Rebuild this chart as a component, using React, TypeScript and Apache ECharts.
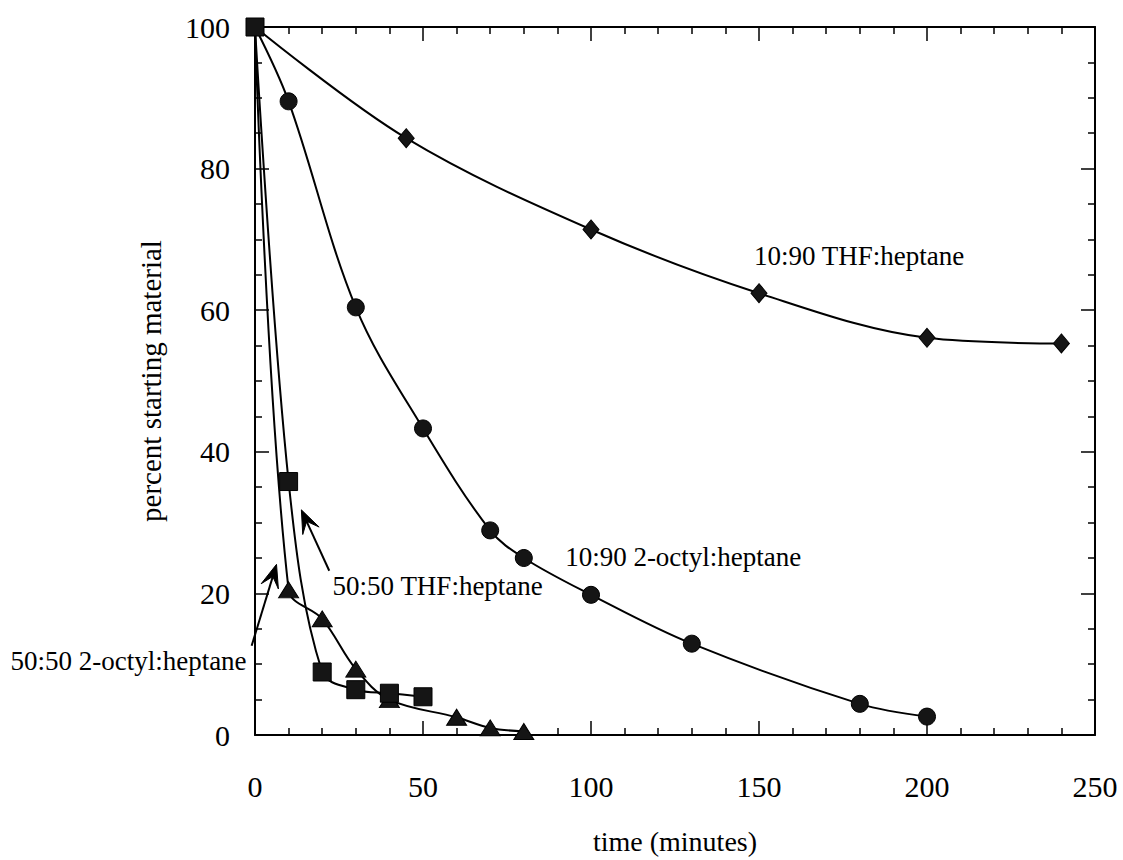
import React, { useEffect, useRef } from 'react';
import * as echarts from 'echarts';

const FONT = '"Liberation Serif", "Times New Roman", Times, serif';

// ---- data (time in minutes, percent starting material) ----
const thf1090Time = [0, 45, 100, 150, 200, 240];
const thf1090Pct = [100, 84.3, 71.4, 62.4, 56.1, 55.3];

const octyl1090Time = [0, 10, 30, 50, 70, 80, 100, 130, 180, 200];
const octyl1090Pct = [100, 89.5, 60.4, 43.3, 28.9, 25.0, 19.8, 12.9, 4.4, 2.6];

const thf5050Time = [0, 10, 20, 30, 40, 50];
const thf5050Pct = [100, 35.8, 8.9, 6.4, 5.9, 5.4];

const octyl5050Time = [0, 10, 20, 30, 40, 60, 70, 80];
const octyl5050Pct = [100, 20.5, 16.4, 9.3, 5.0, 2.5, 1.0, 0.5];

const xTicks = [0, 50, 100, 150, 200, 250];
const yTicks = [0, 20, 40, 60, 80, 100];

const labelThf1090 = '10:90 THF:heptane';
const labelOctyl1090 = '10:90 2-octyl:heptane';
const labelThf5050 = '50:50 THF:heptane';
const labelOctyl5050 = '50:50 2-octyl:heptane';

function pairs(xs: number[], ys: number[], hideFirst: boolean) {
  return xs.map((x, i) =>
    hideFirst && i === 0 ? { value: [x, ys[i]], symbol: 'none' } : { value: [x, ys[i]] }
  );
}

export default function App() {
  const ref = useRef<HTMLDivElement>(null);

  useEffect(() => {
    document.body.style.margin = '0';
    const chart = echarts.init(ref.current!, null, { renderer: 'svg' });

    const axisLine = { show: true, onZero: false, lineStyle: { color: '#000', width: 2 } };
    const tick = { show: true, inside: true, length: 14, lineStyle: { color: '#000', width: 1.5 } };
    const minor = (n: number) => ({
      show: true,
      splitNumber: n,
      length: 7,
      lineStyle: { color: '#000', width: 1.5 },
    });
    const labelStyle = { color: '#000', fontFamily: FONT, fontSize: 30 };
    const lineSeries = (name: string, data: any[], symbol: string, size: any, z: number) => ({
      name,
      type: 'line',
      data,
      smooth: 0.35,
      symbol,
      symbolSize: size,
      showAllSymbol: true,
      z,
      lineStyle: { color: '#000', width: 2 },
      itemStyle: { color: '#151515', borderColor: '#000', borderWidth: 1 },
    });

    chart.setOption({
      animation: false,
      backgroundColor: '#fff',
      grid: { left: 255, top: 27, right: 28, bottom: 122, containLabel: false },
      xAxis: [
        {
          type: 'value',
          position: 'bottom',
          min: xTicks[0],
          max: xTicks[xTicks.length - 1],
          interval: 50,
          axisLine,
          axisTick: tick,
          minorTick: minor(5),
          splitLine: { show: false },
          axisLabel: { ...labelStyle, margin: 36 },
          name: 'time (minutes)',
          nameLocation: 'middle',
          nameGap: 92,
          nameTextStyle: { color: '#000', fontFamily: FONT, fontSize: 28 },
        },
        {
          type: 'value',
          position: 'top',
          min: xTicks[0],
          max: xTicks[xTicks.length - 1],
          interval: 50,
          axisLine,
          axisTick: tick,
          minorTick: minor(5),
          splitLine: { show: false },
          axisLabel: { show: false },
        },
      ],
      yAxis: [
        {
          type: 'value',
          position: 'left',
          min: yTicks[0],
          max: yTicks[yTicks.length - 1],
          interval: 20,
          axisLine,
          axisTick: tick,
          minorTick: minor(4),
          splitLine: { show: false },
          axisLabel: { ...labelStyle, margin: 25 },
          name: 'percent starting material',
          nameLocation: 'middle',
          nameRotate: 90,
          nameGap: 90,
          nameTextStyle: { color: '#000', fontFamily: FONT, fontSize: 29 },
        },
        {
          type: 'value',
          position: 'right',
          min: yTicks[0],
          max: yTicks[yTicks.length - 1],
          interval: 20,
          axisLine,
          axisTick: tick,
          minorTick: minor(4),
          splitLine: { show: false },
          axisLabel: { show: false },
        },
      ],
      series: [
        lineSeries(labelThf1090, pairs(thf1090Time, thf1090Pct, true), 'diamond', [16, 19], 2),
        lineSeries(labelOctyl1090, pairs(octyl1090Time, octyl1090Pct, true), 'circle', 17, 3),
        lineSeries(labelOctyl5050, pairs(octyl5050Time, octyl5050Pct, true), 'triangle', [20, 16], 4),
        lineSeries(labelThf5050, pairs(thf5050Time, thf5050Pct, false), 'rect', 18, 5),
      ],
    });

    // annotations placed in data coordinates
    const toPx = (x: number, y: number) =>
      chart.convertToPixel({ xAxisIndex: 0, yAxisIndex: 0 }, [x, y]) as number[];

    const arrow = (tail: number[], tip: number[]) => {
      const a = toPx(tail[0], tail[1]);
      const b = toPx(tip[0], tip[1]);
      const dx = b[0] - a[0];
      const dy = b[1] - a[1];
      const len = Math.hypot(dx, dy);
      const ux = dx / len;
      const uy = dy / len;
      const nx = -uy;
      const ny = ux;
      const L = 23;
      const W = 9;
      const head = [
        [b[0], b[1]],
        [b[0] - ux * L + nx * W, b[1] - uy * L + ny * W],
        [b[0] - ux * L * 0.55, b[1] - uy * L * 0.55],
        [b[0] - ux * L - nx * W, b[1] - uy * L - ny * W],
      ];
      return [
        {
          type: 'line',
          shape: { x1: a[0], y1: a[1], x2: b[0] - ux * L * 0.5, y2: b[1] - uy * L * 0.5 },
          style: { stroke: '#000', lineWidth: 2 },
          z: 10,
        },
        {
          type: 'polygon',
          shape: { points: head },
          style: { fill: '#000', stroke: '#000', lineWidth: 1 },
          z: 10,
        },
      ];
    };

    const label = (text: string, x: number, y: number, align: string) => {
      const p = toPx(x, y);
      return {
        type: 'text',
        x: p[0],
        y: p[1],
        z: 10,
        style: {
          text,
          fill: '#000',
          font: `27px ${FONT}`,
          align,
          verticalAlign: 'middle',
        },
      };
    };

    chart.setOption({
      graphic: [
        label(labelThf1090, 148.5, 67.6, 'left'),
        label(labelOctyl1090, 92.3, 25.1, 'left'),
        label(labelThf5050, 23.1, 21.1, 'left'),
        label(labelOctyl5050, -2.5, 10.5, 'right'),
        ...arrow([22.1, 23.2], [13.8, 31.8]),
        ...arrow([-1.0, 12.6], [6.4, 24.1]),
      ],
    });

    return () => chart.dispose();
  }, []);

  return <div ref={ref} style={{ width: 1123, height: 860 }} />;
}
